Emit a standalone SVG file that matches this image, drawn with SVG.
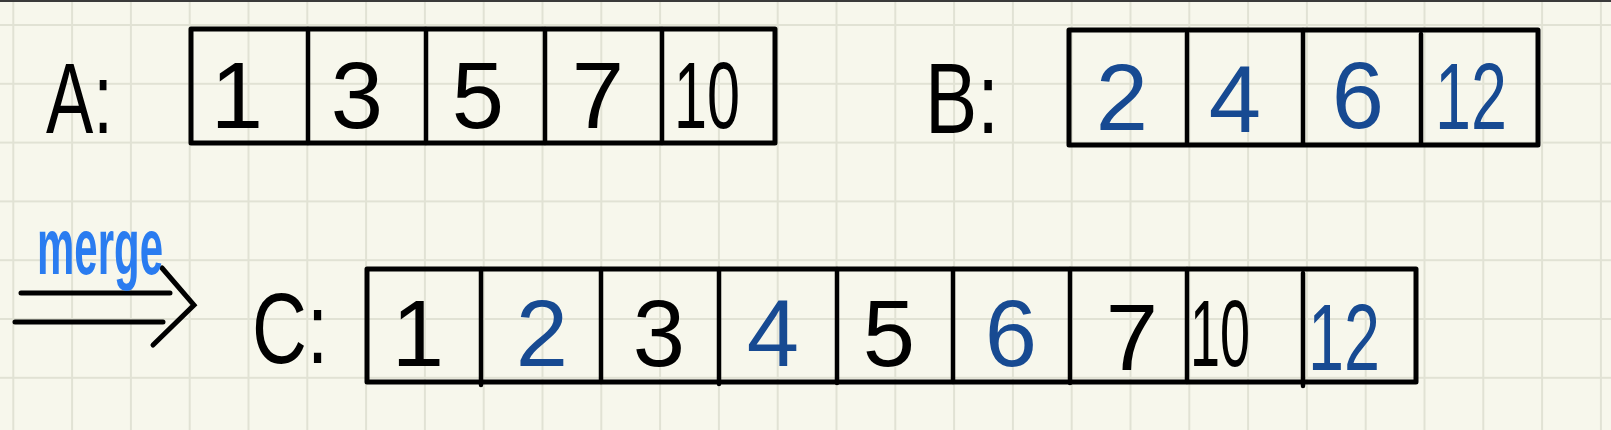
<svg xmlns="http://www.w3.org/2000/svg" width="1611" height="430" viewBox="0 0 1611 430">
<defs>
<pattern id="grid" x="12.3" y="24" width="58.8" height="58.8" patternUnits="userSpaceOnUse">
<path d="M1 0V58.8M0 1H58.8" stroke="#e1e2d4" stroke-width="2" fill="none"/>
</pattern>
</defs>
<style>
.box{fill:none;stroke:#000;stroke-width:5;stroke-linejoin:round}
.div{stroke:#000;stroke-width:4.5;stroke-linecap:round}
.num{font-family:"Liberation Sans",Arial,sans-serif;font-size:94px;text-anchor:middle}
.blk{fill:#000}
.blu{fill:#174a92}
.lbl{font-family:"Liberation Sans",Arial,sans-serif;font-size:100px;fill:#000}
.arr{fill:none;stroke:#000;stroke-width:5;stroke-linecap:round;stroke-linejoin:miter}
</style>
<rect width="1611" height="430" fill="#f7f7ec"/>
<rect width="1611" height="430" fill="url(#grid)"/>
<rect width="1611" height="2" fill="#3a3a3a"/>

<g id="A">
<text class="lbl" x="46" y="133" textLength="67" lengthAdjust="spacingAndGlyphs">A:</text>
<rect class="box" x="191" y="29" width="584" height="114"/>
<path class="div" d="M308 29V143M426 29V143M545 29V143M662 29V143"/>
<text class="num blk" x="237" y="128">1</text>
<text class="num blk" x="357" y="128">3</text>
<text class="num blk" x="478" y="128">5</text>
<text class="num blk" x="598" y="128">7</text>
<text class="num blk" x="707" y="128" textLength="66" lengthAdjust="spacingAndGlyphs">10</text>
</g>

<g id="B">
<text class="lbl" x="925" y="133" textLength="74" lengthAdjust="spacingAndGlyphs">B:</text>
<rect class="box" x="1069" y="30" width="469" height="115"/>
<path class="div" d="M1187 33V144M1303 30V144M1421 34V144"/>
<text class="num blu" x="1122" y="130">2</text>
<text class="num blu" x="1235" y="132">4</text>
<text class="num blu" x="1358" y="128">6</text>
<text class="num blu" x="1471" y="129" textLength="72" lengthAdjust="spacingAndGlyphs">12</text>
</g>

<g id="C">
<text class="lbl" x="252" y="363" textLength="76" lengthAdjust="spacingAndGlyphs">C:</text>
<rect class="box" x="367" y="269" width="1049" height="113"/>
<path class="div" d="M481 269V385M601 269V382M719 269V384M837 269V383M953 269V382M1070 269V383M1187 269V382M1303 273V386"/>
<text class="num blk" x="418" y="366">1</text>
<text class="num blu" x="542" y="366">2</text>
<text class="num blk" x="659" y="366">3</text>
<text class="num blu" x="773" y="366">4</text>
<text class="num blk" x="889" y="366">5</text>
<text class="num blu" x="1011" y="366">6</text>
<text class="num blk" x="1132" y="370">7</text>
<text class="num blk" x="1220" y="366" textLength="60" lengthAdjust="spacingAndGlyphs">10</text>
<text class="num blu" x="1344" y="370" textLength="72" lengthAdjust="spacingAndGlyphs">12</text>
</g>

<g id="connectors">
<path class="arr" d="M21 293H170M15 322H163"/>
<path class="arr" d="M162 268L194 305L153 345"/>
<text x="37" y="274" font-family="Liberation Sans,Arial,sans-serif" font-size="80" font-weight="bold" fill="#2a7cf0" textLength="126" lengthAdjust="spacingAndGlyphs">merge</text>
</g>
</svg>
